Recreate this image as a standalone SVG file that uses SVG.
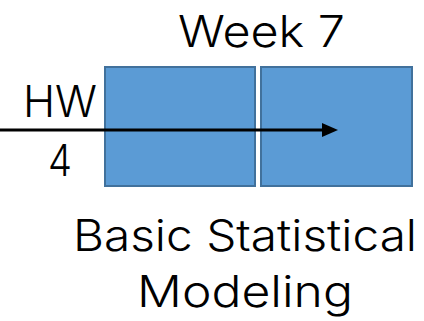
<svg xmlns="http://www.w3.org/2000/svg" width="424" height="321" viewBox="0 0 424 321">
<style>
.t{font-family:Inter,"Liberation Sans",Arial,sans-serif;font-weight:300;font-size:44px;fill:#000}
.box{fill:#5B9BD5;stroke:#41719C;stroke-width:2}
</style>
<rect width="424" height="321" fill="#fff"/>
<g id="box1"><rect class="box" x="105" y="67" width="150" height="119"/></g>
<g id="box2"><rect class="box" x="261" y="67" width="151" height="119"/></g>
<g id="connectors">
<line x1="0" y1="130" x2="324" y2="130" stroke="#000" stroke-width="3"/>
<path d="M322,123 L338,130 L322,137 z" fill="#000"/>
</g>
<g id="labels">
<text class="t" x="178" y="46.5" textLength="167" lengthAdjust="spacingAndGlyphs">Week 7</text>
<text class="t" x="23" y="117" textLength="74" lengthAdjust="spacingAndGlyphs">HW</text>
<text class="t" x="48" y="176" textLength="24" lengthAdjust="spacingAndGlyphs">4</text>
<text class="t" x="73" y="251" textLength="344" lengthAdjust="spacingAndGlyphs">Basic Statistical</text>
<text class="t" x="137" y="307" textLength="216" lengthAdjust="spacingAndGlyphs">Modeling</text>
</g>
</svg>
